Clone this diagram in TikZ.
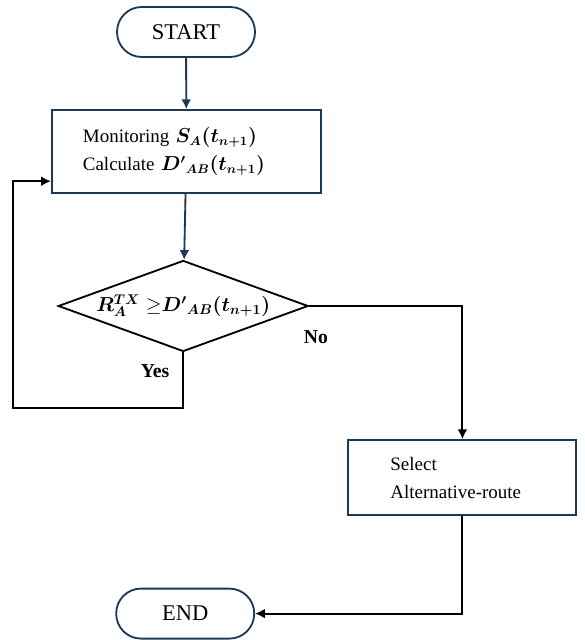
\documentclass[tikz,border=0pt]{standalone}
\usepackage{fontspec}
\setmainfont{Liberation Serif}
\usepackage{bm}
\usetikzlibrary{shapes.geometric,arrows.meta}
\definecolor{navy}{RGB}{31,56,86}
\tikzset{
  term/.style={draw=navy,line width=1.3pt,rounded corners=0.62cm,minimum width=3.45cm,minimum height=1.25cm,font=\fontsize{16}{19}\selectfont},
  procbox/.style={draw=navy,line width=1.3pt,align=left,inner ysep=0pt,font=\fontsize{13.5}{20}\selectfont},
  cond/.style={draw,diamond,line width=1.3pt,aspect=2.75,inner sep=0pt,minimum width=6.25cm,minimum height=2.275cm,font=\fontsize{14}{16}\selectfont},
  flow/.style={-{Latex[length=7pt,width=7pt]},line width=1.3pt},
  lbl/.style={font=\bfseries\fontsize{14}{16}\selectfont}
}
\begin{document}
\begin{tikzpicture}
        \useasboundingbox (0,0) rectangle (14.6,16);
        \node[term] (start) at (4.65,15.2) {START};
        \node[procbox,inner xsep=0.775cm,text width=5.175cm,minimum height=2.075cm] (monitor) at (4.66,12.21)
            {Monitoring $\bm{S_A(t_{n+1})}$\\ Calculate $\bm{{D'}_{AB}(t_{n+1})}$};
        \node[cond] (check) at (4.58,8.35) {$\bm{R_A^{TX}}\;{\geq}\bm{{D'}_{AB}(t_{n+1})}$};
        \node[procbox,inner xsep=1.05cm,text width=3.6cm,minimum height=1.875cm] (select) at (11.56,4.06)
            {Select\\ Alternative-route};
        \node[term] (end) at (4.63,0.66) {END};
        %\node[] at (7,2) {\ldots};
        \coordinate (loop) at (0.325,5.8);
        \draw[flow,navy] (start) -- (monitor);
        \draw[flow,navy] (monitor) -- (check);
        \draw[flow] (check.south) |- (loop) |- ([yshift=-0.74cm]monitor.west);
        \draw[flow] (check.east) -| (select.north);
        \draw[flow] (select.south) |- (end.east);
        \node[lbl] (yes) at (3.875,6.725) {Yes};
        \node[lbl] (no) at (7.9,7.575) {No};
\end{tikzpicture}
\end{document}
